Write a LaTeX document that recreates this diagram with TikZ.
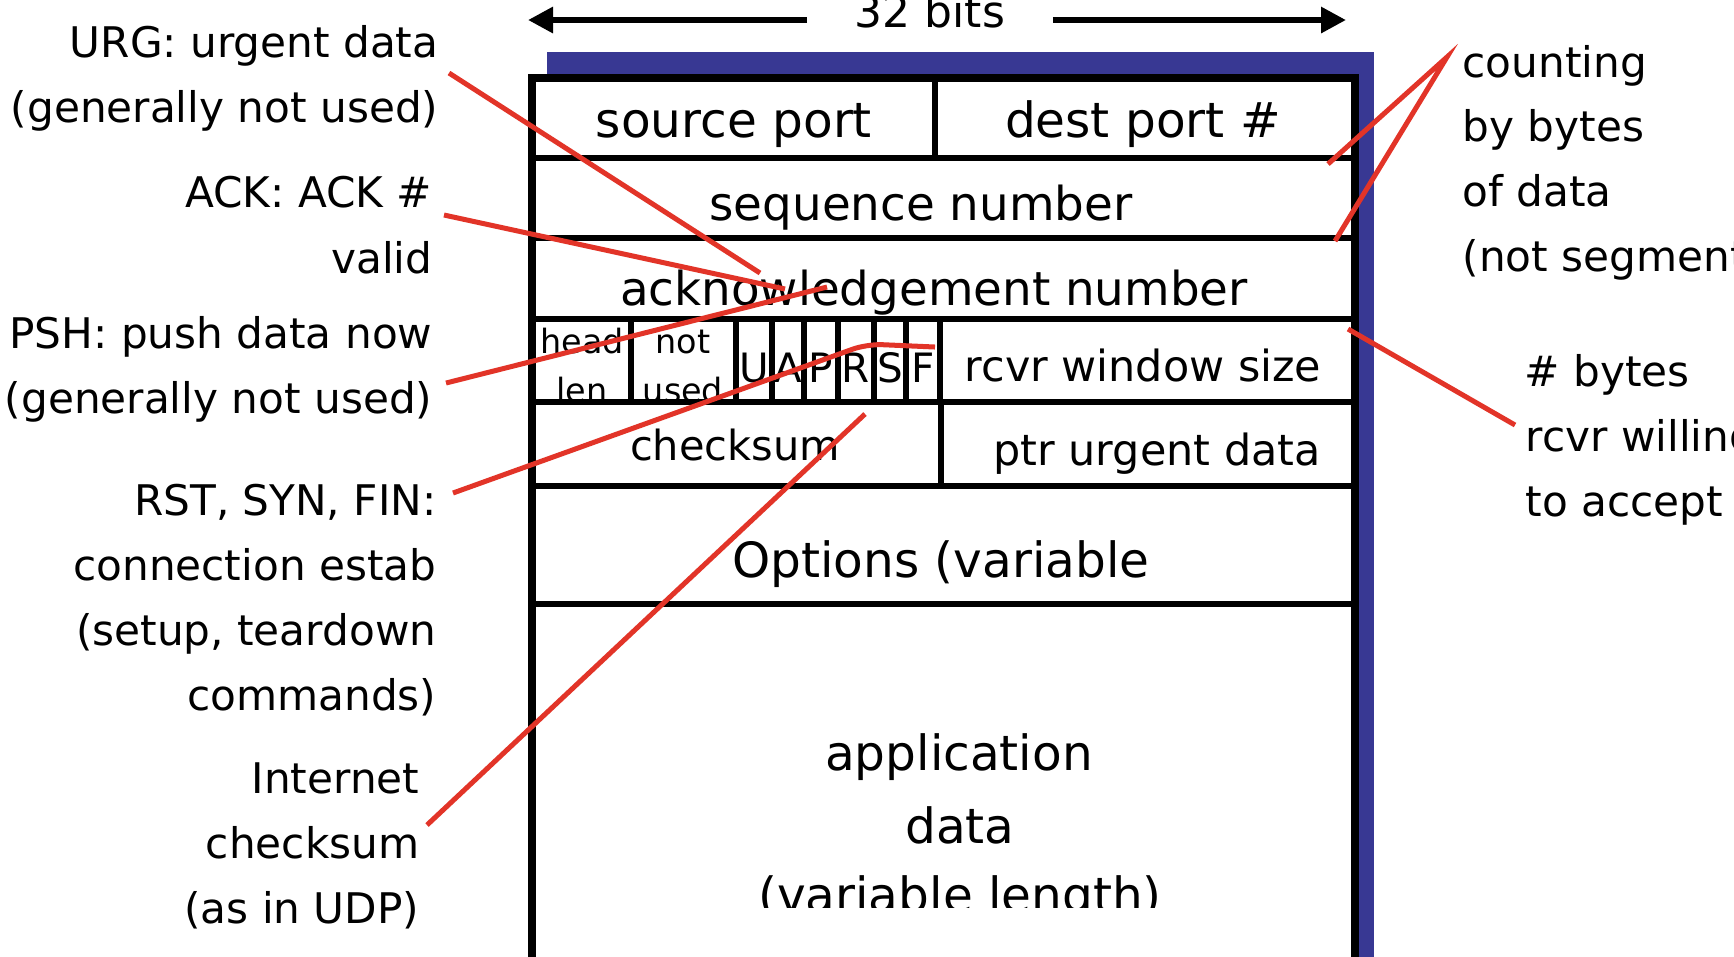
\documentclass[tikz,border=0pt]{standalone}
\usepackage{fontspec}
\setmainfont{DejaVu Sans}
\usepackage{tikz}
\usetikzlibrary{arrows.meta, positioning}

\definecolor{shadowblue}{RGB}{56,56,147}
\definecolor{notered}{RGB}{226,52,40}

\begin{document}
\begin{tikzpicture}[
  x=0.01cm, y=-0.01cm,
  note/.style={font=\fontsize{12}{14}\selectfont, inner sep=0pt, anchor=base east},
  rnote/.style={note, anchor=base west},
  field/.style={font=\fontsize{13.3}{16}\selectfont, inner sep=0pt, anchor=base},
  smallfield/.style={field, font=\fontsize{12.2}{14}\selectfont},
  bigfield/.style={field, font=\fontsize{13.8}{16}\selectfont},
  tinyfield/.style={field, font=\fontsize{9.5}{11}\selectfont},
  flagbit/.style={field, font=\fontsize{11.5}{13}\selectfont},
  rowline/.style={line width=0.06cm},
  pointer/.style={draw=notered, line width=0.05cm},
  spanarrow/.style={line width=0.06cm, -{Triangle[length=0.25cm,width=0.25cm]}}
]
\useasboundingbox (0,0) rectangle (1734,956);

% segment box with its blue shadow
\fill[shadowblue] (547,52) rectangle (1374,1000);
\fill[white] (532,77.5) rectangle (1355,1000);

% 32 bits
\node[field, font=\fontsize{12.5}{14}\selectfont, inner xsep=0.47cm] (bits) at (930,27) {32 bits};
\coordinate (leftTip) at (528,20);
\coordinate (rightTip) at (1346,20);
\draw[spanarrow] (bits.west |- leftTip) -- (leftTip);
\draw[spanarrow] (bits.east |- rightTip) -- (rightTip);

% header fields
\node[bigfield] (srcport) at (734,137) {source port};
\node[bigfield] (dstport) at (1143,137) {dest port \#};
\node[field] (seqnum) at (921,220) {sequence number};
\node[field] (acknum) at (934,305) {acknowledgement number};
\node[tinyfield] (hlen) at (582,353) {head};
\node[tinyfield] (hlen2) at (582,402) {len};
\node[tinyfield] (unused) at (683,353) {not};
\node[tinyfield] (unused2) at (683,402) {used};
\node[flagbit] (fU) at (754,382) {U};
\node[flagbit] (fA) at (788,382) {A};
\node[flagbit] (fP) at (821,382) {P};
\node[flagbit] (fR) at (856,382) {R};
\node[flagbit] (fS) at (890,382) {S};
\node[flagbit] (fF) at (923,382) {F};
\node[smallfield] (rwnd) at (1143,381) {rcvr window size};
\node[smallfield, font=\fontsize{11.8}{14}\selectfont] (csum) at (735,460) {checksum};
\node[smallfield] (urgptr) at (1157,465) {ptr urgent data};
\node[bigfield] (opts) at (941,577) {Options (variable};
\begin{scope}
  \clip (540,610) rectangle (1350,907);
  \node[bigfield] (app) at (959,770) {application};
  \node[bigfield] (app2) at (960,843) {data};
  \node[bigfield] (app3) at (960,912) {(variable length)};
\end{scope}

% rows and columns
\draw[rowline] (532,157.5) -- (1355,157.5);
\draw[rowline] (532,237.5) -- (1355,237.5);
\draw[rowline] (532,318.5) -- (1355,318.5);
\draw[rowline] (532,402) -- (1355,402);
\draw[rowline] (532,486) -- (1355,486);
\draw[rowline] (532,604) -- (1355,604);
\draw[rowline] (935,77.5) -- (935,157.5);
\draw[rowline] (631,318.5) -- (631,402);
\draw[rowline] (736,318.5) -- (736,402);
\draw[rowline] (772,318.5) -- (772,402);
\draw[rowline] (804,318.5) -- (804,402);
\draw[rowline] (838,318.5) -- (838,402);
\draw[rowline] (873.5,318.5) -- (873.5,402);
\draw[rowline] (906,318.5) -- (906,402);
\draw[rowline] (940,318.5) -- (940,402);
\draw[rowline] (941,402) -- (941,486);
\draw[line width=0.08cm] (532,1000) -- (532,77.5) -- (1355,77.5) -- (1355,1000);

% notes on the left
\node[note] (urg) at (439,57) {URG: urgent data};
\node[note] (urg2) at (439,122) {(generally not used)};
\node[note] (ack) at (433,207) {ACK: ACK \#};
\node[note] (ack2) at (433,273) {valid};
\node[note] (psh) at (433,348) {PSH: push data now};
\node[note] (psh2) at (433,413) {(generally not used)};
\node[note] (rst) at (437,515) {RST, SYN, FIN:};
\node[note] (rst2) at (437,580) {connection estab};
\node[note] (rst3) at (437,645) {(setup, teardown};
\node[note] (rst4) at (437,710) {commands)};
\node[note] (inet) at (420,793) {Internet};
\node[note] (inet2) at (420,858) {checksum};
\node[note] (inet3) at (420,923) {(as in UDP)};

% notes on the right
\node[rnote] (cnt) at (1462,77) {counting};
\node[rnote] (cnt2) at (1462,141) {by bytes};
\node[rnote] (cnt3) at (1462,206) {of data};
\node[rnote] (cnt4) at (1462,271) {(not segments!)};
\node[rnote] (byt) at (1524,386) {\# bytes};
\node[rnote] (byt2) at (1525,451) {rcvr willing};
\node[rnote] (byt3) at (1525,516) {to accept};

% red pointers
\coordinate (urgEnd) at (760,273);
\coordinate (ackEnd) at (785,289);
\coordinate (pshEnd) at (827,287);
\coordinate (rstBend) at (867,344);
\coordinate (rstEnd) at (935,347);
\coordinate (csumEnd) at (865,414);
\coordinate (seqEnd) at (1328,164);
\coordinate (ackNumEnd) at (1335,241);
\coordinate (rwndEnd) at (1348,329);
\draw[pointer] ([shift={(10,16)}]urg.base east) -- (urgEnd);
\draw[pointer] ([shift={(11,8)}]ack.base east) -- (ackEnd);
\draw[pointer] ([shift={(13,-30)}]psh2.base east) -- (pshEnd);
\draw[pointer, rounded corners=0.15cm] ([shift={(16,-22)}]rst.base east) -- (rstBend) -- (rstEnd);
\draw[pointer] ([shift={(7,-33)}]inet2.base east) -- (csumEnd);
\draw[pointer] (seqEnd) -- ([shift={(-15,-20)}]cnt.base west) -- (ackNumEnd);
\draw[pointer] ([shift={(-10,-26)}]byt2.base west) -- (rwndEnd);
\end{tikzpicture}
\end{document}
